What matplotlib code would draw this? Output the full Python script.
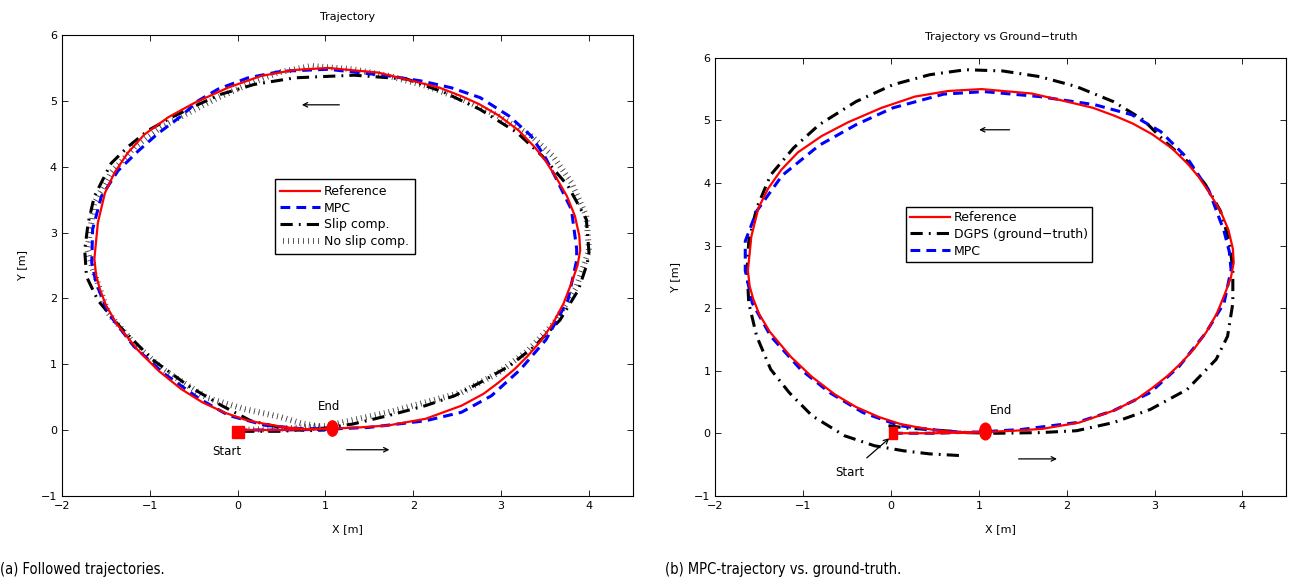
import matplotlib
matplotlib.use('Agg')
from matplotlib import pyplot as plt
from matplotlib import patheffects
from matplotlib.markers import MarkerStyle
from matplotlib.transforms import Affine2D

# reference path (same in both panels)
ref_x = [0.00, 0.50, 1.05, 1.40, 1.72, 2.14, 2.55, 2.80, 2.97, 3.15, 3.30, 3.45,
         3.59, 3.71, 3.80, 3.87, 3.90, 3.89, 3.84, 3.75, 3.62, 3.50, 3.38, 3.20,
         2.97, 2.75, 2.55, 2.30, 2.00, 1.60, 1.03, 0.65, 0.27, -0.11, -0.49, -0.79,
         -1.06, -1.25, -1.40, -1.51, -1.59, -1.63, -1.61, -1.57, -1.50, -1.38,
         -1.14, -0.90, -0.64, -0.40, -0.14, 0.10, 0.32, 0.55, 0.81, 1.05]
ref_y = [0.00, 0.00, 0.02, 0.04, 0.07, 0.17, 0.37, 0.55, 0.72, 0.92, 1.12, 1.35,
         1.62, 1.92, 2.23, 2.50, 2.73, 2.95, 3.25, 3.55, 3.85, 4.10, 4.30, 4.55,
         4.78, 4.95, 5.07, 5.20, 5.30, 5.43, 5.50, 5.47, 5.38, 5.20, 4.97, 4.75,
         4.49, 4.21, 3.91, 3.60, 3.15, 2.60, 2.35, 2.15, 1.90, 1.62,
         1.22, 0.90, 0.62, 0.42, 0.26, 0.15, 0.09, 0.04, 0.01, 0.02]

# (a) followed trajectories
mpc_a_x = [0.00, 0.50, 1.00, 1.50, 2.14, 2.55, 2.89, 3.22, 3.51, 3.76, 3.86, 3.86,
           3.80, 3.63, 3.50, 3.34, 3.09, 2.76, 2.43, 2.10, 1.72, 1.03, 0.50, 0.12,
           -0.22, -0.45, -0.64, -0.91, -1.13, -1.36, -1.55, -1.65, -1.66, -1.61,
           -1.47, -1.18, -0.85, -0.43, -0.10, 0.32, 0.73, 1.00]
mpc_a_y = [0.00, 0.00, 0.01, 0.04, 0.14, 0.27, 0.52, 0.92, 1.37, 1.97, 2.58, 2.75,
           3.35, 3.81, 4.15, 4.47, 4.77, 5.05, 5.20, 5.30, 5.38, 5.48, 5.45, 5.35,
           5.18, 5.00, 4.77, 4.50, 4.24, 3.94, 3.55, 3.05, 2.54, 2.23,
           1.77, 1.27, 0.87, 0.47, 0.22, 0.07, 0.02, 0.02]

slip_x = [0.05, 0.50, 1.00, 1.31, 1.72, 2.14, 2.47, 2.76, 3.09, 3.38, 3.67, 3.88,
          3.98, 4.00, 3.97, 3.76, 3.47, 3.18, 2.76, 2.35, 1.93, 1.33, 0.65, 0.19,
          -0.19, -0.49, -0.75, -1.02, -1.25, -1.44, -1.63, -1.70, -1.74, -1.72,
          -1.59, -1.34, -0.97, -0.56, -0.18, 0.15, 0.48, 0.81, 1.00]
slip_y = [-0.02, -0.02, 0.03, 0.09, 0.22, 0.37, 0.52, 0.72, 0.97, 1.27, 1.67, 2.13,
          2.53, 2.70, 3.20, 3.71, 4.16, 4.52, 4.87, 5.13, 5.33, 5.39, 5.35, 5.25,
          5.10, 4.92, 4.75, 4.55, 4.30, 4.05, 3.55, 3.15, 2.74, 2.33,
          1.97, 1.57, 1.07, 0.67, 0.37, 0.14, 0.04, -0.01, 0.00]

noslip_x = [0.05, 0.50, 1.00, 1.72, 2.14, 2.55, 2.97, 3.30, 3.60, 3.85, 4.00, 3.97,
            3.80, 3.59, 3.34, 2.97, 2.55, 2.14, 1.72, 1.31, 0.84, 0.46, 0.12, -0.22,
            -0.56, -0.87, -1.17, -1.44, -1.63, -1.71, -1.65, -1.59, -1.47, -1.18,
            -0.85, -0.64, -0.35, 0.07, 0.48, 0.73, 0.95]
noslip_y = [0.00, 0.02, 0.06, 0.27, 0.42, 0.57, 0.87, 1.20, 1.62, 2.15, 2.73, 3.25,
            3.76, 4.16, 4.47, 4.77, 5.03, 5.23, 5.38, 5.48, 5.53, 5.43, 5.25, 5.05,
            4.82, 4.60, 4.30, 3.91, 3.45, 2.74, 2.45, 2.23, 1.77, 1.32,
            0.92, 0.74, 0.49, 0.32, 0.20, 0.10, 0.05]

# (b) trajectory vs ground truth
dgps_x = [-0.03, 0.20, 0.44, 0.85, 1.20, 1.69, 2.11, 2.53, 2.95, 3.37, 3.70, 3.83,
          3.89, 3.89, 3.85, 3.75, 3.58, 3.37, 3.12, 2.87, 2.53, 2.11, 1.69, 1.27,
          0.85, 0.44, 0.02, -0.40, -0.82, -1.11, -1.37, -1.53, -1.62, -1.64, -1.62,
          -1.53, -1.37, -1.16, -0.90, -0.53, -0.19, 0.14, 0.44, 0.83]
dgps_y = [0.12, 0.08, 0.06, 0.01, 0.00, 0.01, 0.04, 0.17, 0.38, 0.70, 1.18, 1.55,
          2.08, 2.61, 3.07, 3.55, 3.97, 4.35, 4.66, 5.01, 5.30, 5.54, 5.70, 5.79,
          5.81, 5.73, 5.57, 5.30, 4.93, 4.56, 4.13, 3.60, 3.07, 2.60, 2.08,
          1.55, 1.02, 0.65, 0.28, -0.04, -0.20, -0.28, -0.33, -0.36]

mpc_b_x = [0.02, 0.50, 1.00, 1.48, 2.11, 2.53, 2.95, 3.28, 3.58, 3.79, 3.87, 3.85,
           3.79, 3.62, 3.37, 3.07, 2.74, 2.32, 1.69, 1.06, 0.60, 0.02, -0.40, -0.82,
           -1.24, -1.53, -1.66, -1.66, -1.58, -1.37, -1.03, -0.70, -0.32, 0.10,
           0.44, 0.85, 1.05]
mpc_b_y = [0.00, 0.00, 0.02, 0.06, 0.17, 0.36, 0.65, 1.07, 1.60, 2.08, 2.61, 2.90,
           3.23, 3.87, 4.40, 4.82, 5.09, 5.25, 5.38, 5.46, 5.42, 5.20, 4.93, 4.60,
           4.12, 3.55, 3.07, 2.60, 2.08, 1.55, 1.02, 0.65, 0.33, 0.12,
           0.06, 0.01, 0.02]

start_a = (0.0, -0.03)
end_a = (1.07, 0.03)
start_b = (0.02, 0.0)
end_b = (1.07, 0.03)

plt.rcParams['font.family'] = ['DejaVu Sans']
plt.rcParams['font.size'] = 8

fig = plt.figure(figsize=(12.89, 5.84), dpi=100)
ax1 = fig.add_axes([0.048, 0.151, 0.443, 0.789])
ax2 = fig.add_axes([0.555, 0.151, 0.443, 0.750])

# thin perpendicular ticks only, no centre line
ticked = [patheffects.TickedStroke(spacing=3.4, angle=90, length=0.55,
                                   linewidth=0.6, foreground='0.25'),
          patheffects.TickedStroke(spacing=3.4, angle=-90, length=0.55,
                                   linewidth=0.6, foreground='0.25')]

oval = MarkerStyle('o', transform=Affine2D().scale(0.7, 1.0))
rect = MarkerStyle('s', transform=Affine2D().scale(0.65, 1.0))

# --- panel (a)
ax1.plot(noslip_x, noslip_y, color='0.25', lw=0.6, path_effects=ticked,
         label='No slip comp.', zorder=2)
ax1.plot(slip_x, slip_y, color='k', lw=2.2, dashes=(4, 2, 0.6, 2),
         label='Slip comp.', zorder=3)
ax1.plot(mpc_a_x, mpc_a_y, color='#0000ff', lw=2.2, dashes=(3.2, 2),
         label='MPC', zorder=4)
ax1.plot(ref_x, ref_y, color='red', lw=1.6, label='Reference', zorder=5)
ax1.plot(*start_a, marker='s', ms=8, color='red', zorder=6)
ax1.plot(*end_a, marker=oval, ms=11, color='red', zorder=6)
ax1.text(1.04, 0.36, 'End', ha='center', va='center', fontsize=8.5)
ax1.text(-0.12, -0.32, 'Start', ha='center', va='center', fontsize=8.5)
ax1.annotate('', xy=(1.76, -0.30), xytext=(1.21, -0.30),
             arrowprops=dict(arrowstyle='->', lw=0.9, color='k'))
ax1.annotate('', xy=(0.70, 4.94), xytext=(1.19, 4.94),
             arrowprops=dict(arrowstyle='->', lw=0.9, color='k'))
ax1.set_title('Trajectory', fontsize=8, pad=11)

h, l = ax1.get_legend_handles_labels()
order = [3, 2, 1, 0]
ax1.legend([h[i] for i in order], [l[i] for i in order],
           loc='upper left', bbox_to_anchor=(0.373, 0.687),
           fontsize=9, handlelength=3.2, fancybox=False, framealpha=1,
           edgecolor='k', borderpad=0.45, labelspacing=0.3, handletextpad=0.3,
           borderaxespad=0)

# --- panel (b)
ax2.plot(dgps_x, dgps_y, color='k', lw=2.2, dashes=(4, 2, 0.6, 2),
         label='DGPS (ground\u2212truth)', zorder=3)
ax2.plot(mpc_b_x, mpc_b_y, color='#0000ff', lw=2.2, dashes=(3.2, 2),
         label='MPC', zorder=4)
ax2.plot(ref_x, ref_y, color='red', lw=1.6, label='Reference', zorder=5)
ax2.plot(*start_b, marker=rect, ms=8, color='red', zorder=6)
ax2.plot(*end_b, marker=oval, ms=12, color='red', zorder=6)
ax2.text(1.25, 0.37, 'End', ha='center', va='center', fontsize=8.5)
ax2.annotate('Start', xy=(-0.02, -0.08), xytext=(-0.47, -0.63),
             ha='center', va='center', fontsize=8.5,
             arrowprops=dict(arrowstyle='->', lw=0.9, color='k',
                             shrinkA=6, shrinkB=0))
ax2.annotate('', xy=(1.92, -0.41), xytext=(1.42, -0.41),
             arrowprops=dict(arrowstyle='->', lw=0.9, color='k'))
ax2.annotate('', xy=(0.97, 4.85), xytext=(1.38, 4.85),
             arrowprops=dict(arrowstyle='->', lw=0.9, color='k'))
ax2.set_title('Trajectory vs Ground\u2212truth', fontsize=8, pad=13)

h, l = ax2.get_legend_handles_labels()
order = [2, 0, 1]
ax2.legend([h[i] for i in order], [l[i] for i in order],
           loc='upper left', bbox_to_anchor=(0.333, 0.66),
           fontsize=9, handlelength=3.2, fancybox=False, framealpha=1,
           edgecolor='k', borderpad=0.35, labelspacing=0.3, handletextpad=0.3,
           borderaxespad=0)

for ax in (ax1, ax2):
    ax.set_xlim(-2, 4.5)
    ax.set_ylim(-1, 6)
    ax.set_xticks(range(-2, 5))
    ax.set_yticks(range(-1, 7))
    ax.tick_params(direction='in', top=True, right=True, labelsize=8,
                   length=4, width=0.6)
    for s in ax.spines.values():
        s.set_linewidth(0.8)
    ax.set_xlabel('X [m]', fontsize=8, labelpad=10)
    ax.set_ylabel('Y [m]', fontsize=8, labelpad=10)

fig.text(0.0, 0.024, '(a) Followed trajectories.', fontsize=10.5,
         family='DejaVu Sans', fontstretch='condensed', va='center')
fig.text(0.516, 0.024, '(b) MPC-trajectory vs. ground-truth.', fontsize=10.5,
         family='DejaVu Sans', fontstretch='condensed', va='center')

fig.savefig('out.png', dpi=100)
